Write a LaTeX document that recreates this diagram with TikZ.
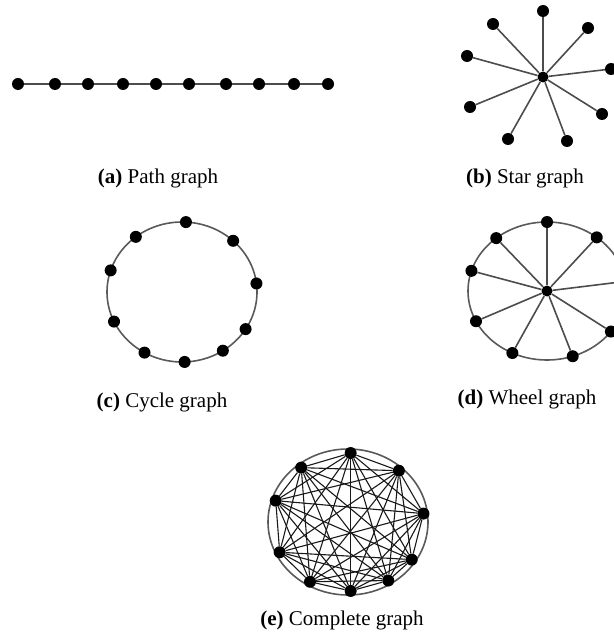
\documentclass[tikz,border=0pt]{standalone}
\usepackage{fontspec}
\setmainfont{Liberation Serif}
\usetikzlibrary{calc}

\begin{document}
\begin{tikzpicture}[x=1pt, y=-1pt,
  vertex/.style={circle, fill=black, inner sep=0pt, minimum size=12pt},
  edge/.style={draw=black!70, line width=1.6pt},
  rim/.style={draw=black!65, line width=1.6pt},
  kedge/.style={draw=black!90, line width=1.1pt},
  caption/.style={font=\fontsize{21}{24}\selectfont, inner sep=0pt}]
\useasboundingbox (0,0) rectangle (613,636);
% path graph
\foreach \x [count=\i] in {18,55,88,123,156,189,226,259,294,328}
  \node[vertex] (p\i) at (\x,84) {};
\foreach \i [count=\j from 2] in {1,...,9}
  \draw[edge] (p\i) -- (p\j);
\node[caption] (capa) at (158,178) {\textbf{(a)} Path graph};
% star graph
\node[vertex, minimum size=11pt] (s0) at (543,77) {};
\foreach \x/\y [count=\i] in {543/11,588/28,611/69,602/114,567/141,508/139,470/107,467/56,493/24}{
  \node[vertex] (s\i) at (\x,\y) {};
  \draw[edge] (s0) -- (s\i);
}
\node[caption] (capb) at (525,178) {\textbf{(b)} Star graph};
% cycle graph
\coordinate (cc) at (182,292);
\draw[rim] (cc) ellipse [x radius=75pt, y radius=70pt];
\foreach \a [count=\i] in {87,47,7,-32,-57,-88,-120,-155,162,128}
  \node[vertex] (c\i) at ($(cc)+(\a:75pt and 70pt)$) {};
\node[caption] (capc) at (162,402) {\textbf{(c)} Cycle graph};
% wheel graph
\node[vertex, minimum size=11pt] (w0) at (547,291) {};
\draw[rim] (w0.center) ellipse [x radius=79pt, y radius=69pt];
\foreach \a [count=\i] in {90,51,8,-36,-71,-116,-154,163,130}{
  \node[vertex] (w\i) at ($(w0.center)+(\a:79pt and 69pt)$) {};
  \draw[edge] (w0) -- (w\i);
}
\node[caption] (capd) at (527,399) {\textbf{(d)} Wheel graph};
% complete graph
\coordinate (kc) at (348,522);
\draw[rim] (kc) ellipse [x radius=80pt, y radius=73pt];
\foreach \a [count=\i] in {88,48,7,-33,-58,-88,-120,-154,162,128}
  \node[vertex] (k\i) at ($(kc)+(\a:76pt and 69pt)$) {};
\foreach \i in {1,...,9}{
  \pgfmathtruncatemacro\k{\i+1}
  \foreach \j in {\k,...,10}
    \draw[kedge] (k\i) -- (k\j);
}
\node[caption] (cape) at (342,620) {\textbf{(e)} Complete graph};
\end{tikzpicture}
\end{document}
